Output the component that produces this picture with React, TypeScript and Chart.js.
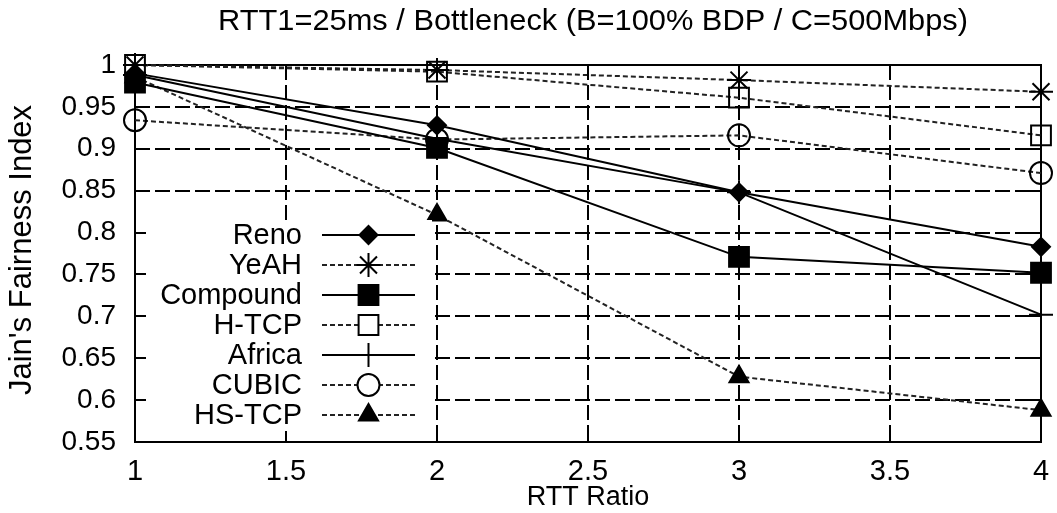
import React, { useEffect, useRef } from 'react';
import { Chart, registerables } from 'chart.js';
import { drawPoint } from 'chart.js/helpers';

Chart.register(...registerables);

// ---- data ----
const rttRatios = [1, 2, 3, 4];
const reno = [0.99, 0.928, 0.848, 0.783];
const yeah = [1.0, 0.994, 0.982, 0.968];
const compound = [0.979, 0.901, 0.771, 0.752];
const htcp = [1.0, 0.992, 0.961, 0.916];
const africa = [0.988, 0.912, 0.848, 0.702];
const cubic = [0.934, 0.911, 0.916, 0.871];
const hstcp = [0.986, 0.821, 0.628, 0.588];

const xTickValues = [1, 1.5, 2, 2.5, 3, 3.5, 4];
const xTickLabels = ['1', '1.5', '2', '2.5', '3', '3.5', '4'];
const yTickValues = [0.55, 0.6, 0.65, 0.7, 0.75, 0.8, 0.85, 0.9, 0.95, 1];
const yTickLabels = ['0.55', '0.6', '0.65', '0.7', '0.75', '0.8', '0.85', '0.9', '0.95', '1'];

const titleText = 'RTT1=25ms / Bottleneck (B=100% BDP / C=500Mbps)';
const xTitle = 'RTT Ratio';
const yTitle = "Jain's Fairness Index";

const seriesNames = ['Reno', 'YeAH', 'Compound', 'H-TCP', 'Africa', 'CUBIC', 'HS-TCP'];
const seriesValues = [reno, yeah, compound, htcp, africa, cubic, hstcp];

// styles (not data)
const seriesStyles = [
  { dashed: false, pointStyle: 'rectRot', radius: 9, filled: true },
  { dashed: true, pointStyle: 'star', radius: 12, filled: false },
  { dashed: false, pointStyle: 'rect', radius: 14, filled: true },
  { dashed: true, pointStyle: 'rect', radius: 14, filled: false },
  { dashed: false, pointStyle: 'cross', radius: 12, filled: false },
  { dashed: true, pointStyle: 'circle', radius: 11, filled: false },
  { dashed: true, pointStyle: 'triangle', radius: 11, filled: true },
];

const FONT = "'Liberation Sans', Arial, sans-serif";
const SOLID_COLOR = '#000';
const DASH_COLOR = '#222';
const DASH = [5, 3];

const framePlugin = {
  id: 'frame',
  beforeDatasetsDraw(chart: any) {
    const { ctx, chartArea: a, scales } = chart;
    ctx.save();
    ctx.strokeStyle = '#000';
    ctx.lineWidth = 2;
    ctx.setLineDash([15, 5]);
    for (const v of yTickValues) {
      const y = Math.round(scales.y.getPixelForValue(v));
      if (Math.abs(y - a.top) < 2 || Math.abs(y - a.bottom) < 2) continue;
      ctx.beginPath();
      ctx.moveTo(a.left, y);
      ctx.lineTo(a.right, y);
      ctx.stroke();
    }
    for (const v of xTickValues) {
      const x = Math.round(scales.x.getPixelForValue(v));
      if (Math.abs(x - a.left) < 2 || Math.abs(x - a.right) < 2) continue;
      ctx.beginPath();
      ctx.moveTo(x, a.top);
      ctx.lineTo(x, a.bottom);
      ctx.stroke();
    }
    ctx.setLineDash([]);
    ctx.lineWidth = 2;
    ctx.strokeRect(a.left, a.top, a.right - a.left, a.bottom - a.top);
    ctx.restore();
  },
  afterDatasetsDraw(chart: any) {
    const { ctx, chartArea: a, scales } = chart;
    ctx.save();
    // opaque key box
    const boxL = a.left + 1.5;
    const boxR = a.left + 297;
    const boxT = a.top + 155;
    const boxB = a.bottom - 1.5;
    ctx.fillStyle = '#fff';
    ctx.fillRect(boxL, boxT, boxR - boxL, boxB - boxT);
    // inward tick marks
    ctx.strokeStyle = '#000';
    ctx.lineWidth = 2;
    const tl = 11;
    for (const v of yTickValues) {
      const y = Math.round(scales.y.getPixelForValue(v));
      ctx.beginPath();
      ctx.moveTo(a.left, y); ctx.lineTo(a.left + tl, y);
      ctx.moveTo(a.right, y); ctx.lineTo(a.right - tl, y);
      ctx.stroke();
    }
    for (const v of xTickValues) {
      const x = Math.round(scales.x.getPixelForValue(v));
      ctx.beginPath();
      ctx.moveTo(x, a.bottom); ctx.lineTo(x, a.bottom - tl);
      ctx.moveTo(x, a.top); ctx.lineTo(x, a.top + tl);
      ctx.stroke();
    }
    // legend entries
    const textRight = a.left + 167;
    const lineL = a.left + 187;
    const lineR = a.left + 280;
    const markX = (lineL + lineR) / 2;
    const row0 = a.top + 170;
    const rowH = 30;
    ctx.font = `29px ${FONT}`;
    ctx.textAlign = 'right';
    ctx.textBaseline = 'middle';
    seriesNames.forEach((name, i) => {
      const st = seriesStyles[i];
      const y = row0 + i * rowH;
      ctx.fillStyle = '#000';
      ctx.fillText(name, textRight, y + 1);
      ctx.save();
      ctx.strokeStyle = st.dashed ? DASH_COLOR : SOLID_COLOR;
      ctx.lineWidth = 2;
      ctx.setLineDash(st.dashed ? DASH : []);
      ctx.beginPath();
      ctx.moveTo(lineL, y); ctx.lineTo(lineR, y);
      ctx.stroke();
      ctx.restore();
      ctx.save();
      ctx.setLineDash([]);
      ctx.strokeStyle = '#000';
      ctx.fillStyle = st.filled ? '#000' : '#fff';
      ctx.lineWidth = 2;
      drawPoint(ctx, { pointStyle: st.pointStyle, radius: st.radius, borderWidth: 2, rotation: 0 } as any, markX, y);
      ctx.restore();
    });
    // titles
    ctx.fillStyle = '#000';
    ctx.textAlign = 'center';
    ctx.textBaseline = 'middle';
    ctx.font = `30px 'Liberation Sans Narrow', ${FONT}`;
    const tw = ctx.measureText(titleText).width;
    const target = 750;
    ctx.save();
    ctx.translate(593, 22);
    ctx.scale(target / tw, 1);
    ctx.fillText(titleText, 0, 0);
    ctx.restore();
    ctx.font = `27px ${FONT}`;
    ctx.fillText(xTitle, (a.left + a.right) / 2, 498);
    ctx.save();
    ctx.translate(22, 250);
    ctx.rotate(-Math.PI / 2);
    ctx.font = `31px ${FONT}`;
    ctx.fillText(yTitle, 0, 0);
    ctx.restore();
    ctx.restore();
  },
};

export default function App() {
  const ref = useRef<HTMLCanvasElement | null>(null);
  useEffect(() => {
    document.body.style.margin = '0';
    const canvas = ref.current!;
    const datasets = seriesNames.map((name, i) => {
      const st = seriesStyles[i];
      return {
        label: name,
        data: rttRatios.map((x, j) => ({ x, y: seriesValues[i][j] })),
        borderColor: st.dashed ? DASH_COLOR : SOLID_COLOR,
        borderWidth: 2,
        borderDash: st.dashed ? DASH : [],
        pointStyle: st.pointStyle,
        pointRadius: st.radius,
        pointBorderWidth: 2,
        pointBorderColor: '#000',
        pointBackgroundColor: st.filled ? '#000' : 'rgba(0,0,0,0)',
        fill: false,
        tension: 0,
        clip: false,
      };
    });
    const chart = new Chart(canvas, {
      type: 'line',
      data: { datasets } as any,
      plugins: [framePlugin],
      options: {
        animation: false,
        responsive: false,
        maintainAspectRatio: false,
        layout: { padding: { top: 65, right: 9, left: 0, bottom: 0 } },
        plugins: { legend: { display: false }, tooltip: { enabled: false }, title: { display: false } },
        scales: {
          x: {
            type: 'linear',
            min: 1,
            max: 4,
            grid: { display: false },
            border: { display: false },
            afterFit: (s: any) => { s.height = 71; },
            afterBuildTicks: (s: any) => { s.ticks = xTickValues.map((v) => ({ value: v })); },
            ticks: {
              autoSkip: false,
              maxRotation: 0,
              padding: 5,
              color: '#000',
              font: { family: FONT, size: 29 },
              callback: (v: any) => xTickLabels[xTickValues.indexOf(Number(v))] ?? '',
            },
          },
          y: {
            type: 'linear',
            min: 0.55,
            max: 1,
            grid: { display: false },
            border: { display: false },
            afterFit: (s: any) => { s.width = 135; },
            afterBuildTicks: (s: any) => { s.ticks = yTickValues.map((v) => ({ value: v })); },
            ticks: {
              autoSkip: false,
              padding: 11,
              color: '#000',
              font: { family: FONT, size: 28 },
              callback: (v: any) => {
                const idx = yTickValues.findIndex((t) => Math.abs(t - Number(v)) < 1e-9);
                return idx >= 0 ? yTickLabels[idx] : '';
              },
            },
          },
        },
      } as any,
    });
    return () => chart.destroy();
  }, []);
  return (
    <div style={{ width: 1057, height: 513 }}>
      <canvas ref={ref} width={1057} height={513} style={{ width: 1057, height: 513, display: 'block' }} />
    </div>
  );
}
